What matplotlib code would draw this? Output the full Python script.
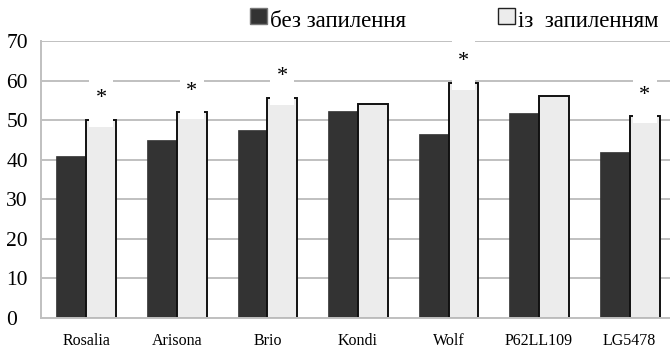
import matplotlib
matplotlib.use("Agg")
import matplotlib.pyplot as plt
from matplotlib.patches import Rectangle
import numpy as np

# Cultivars and measured values
cultivars = ["Rosalia", "Arisona", "Brio", "Kondi", "Wolf", "P62LL109", "LG5478"]
without_pollination = [41.0, 45.1, 47.5, 52.3, 46.4, 51.7, 42.0]
with_pollination = [50.0, 52.0, 55.6, 54.0, 59.4, 56.1, 51.0]
significant = [True, True, True, False, True, False, True]
series_labels = ["без запилення", "із  запиленням"]
y_ticks = [0, 10, 20, 30, 40, 50, 60, 70]

plt.rcParams["font.family"] = ["Liberation Serif", "DejaVu Serif"]

W, H = 670, 350
fig = plt.figure(figsize=(W / 100, H / 100), dpi=100)
ax = fig.add_axes([41 / W, 32 / H, 634 / W, 277 / H])

dark = "#333333"
light = "#ececec"
grid_c = "#c0c0c0"
bw = 0.33
x = np.arange(len(cultivars))

ax.bar(x - bw / 2, without_pollination, width=bw, color=dark, edgecolor=dark,
       linewidth=0.5, zorder=2)
ax.bar(x + bw / 2, with_pollination, width=bw, color=light, edgecolor="#111111",
       linewidth=1.4, zorder=2)

# significance marks with a white label box over the bar top
for xi, v, sig in zip(x, with_pollination, significant):
    if not sig:
        continue
    cx = xi + bw / 2
    ax.add_patch(Rectangle((cx - 0.132, v - 1.75), 0.264, 12.6,
                           facecolor="white", edgecolor="none", zorder=3))
    ax.annotate("*", xy=(cx, v), xytext=(0, 12), textcoords="offset points",
                ha="center", va="baseline", fontsize=16, zorder=4)

ax.set_xlim(-0.5, len(cultivars) - 0.5)
ax.set_ylim(0, 70)
ax.set_yticks(y_ticks)
ax.set_yticklabels([str(t) for t in y_ticks])
ax.set_xticks(x)
ax.set_xticklabels(cultivars, fontsize=11.5)
ax.tick_params(axis="x", length=0, pad=11)
ax.tick_params(axis="y", length=0, pad=25, labelsize=15.5)
for lab in ax.get_yticklabels():
    lab.set_horizontalalignment("left")

ax.yaxis.grid(True, color=grid_c, linewidth=1.4)
ax.set_axisbelow(True)
for side in ["top", "right"]:
    ax.spines[side].set_visible(False)
for side in ["left", "bottom"]:
    ax.spines[side].set_color(grid_c)
    ax.spines[side].set_linewidth(1.4)

# legend drawn in figure pixels
def px(xp, yp):
    return xp / W, 1 - yp / H

for (sx, col, ec), label in zip([(250, dark, "#777777"), (498, light, "#222222")],
                                series_labels):
    x0, y0 = px(sx, 24)
    fig.patches.append(Rectangle((x0, y0), 17 / W, 16 / H, transform=fig.transFigure,
                                 facecolor=col, edgecolor=ec, linewidth=1.0))
    tx, ty = px(sx + 20, 27)
    fig.text(tx, ty, label, fontsize=16.5, ha="left", va="baseline")

fig.savefig("out.png", dpi=100)
